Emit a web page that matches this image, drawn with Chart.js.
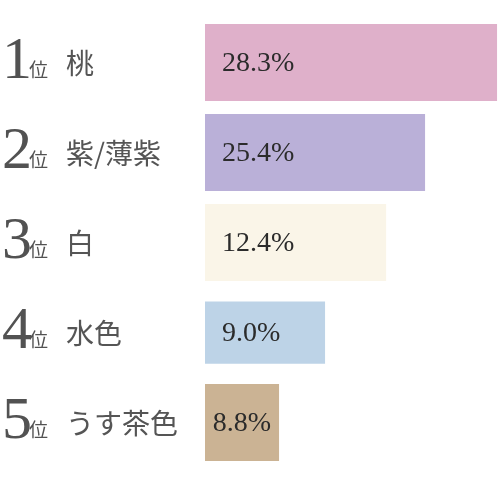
<!DOCTYPE html>
<html>
<head>
<meta charset="utf-8">
<script src="https://cdn.jsdelivr.net/npm/chart.js@4.4.1/dist/chart.umd.min.js"></script>
<style>
  html, body { margin: 0; padding: 0; background: #ffffff; }
  canvas { display: block; }
</style>
</head>
<body>
<canvas id="c" width="500" height="500"></canvas>
<script>
// ---- data ----
const ranks = ['1', '2', '3', '4', '5'];
const colorNames = ['桃', '紫/薄紫', '白', '水色', 'うす茶色'];
const shareLabels = ['28.3%', '25.4%', '12.4%', '9.0%', '8.8%'];
// bar lengths as drawn in the picture (relative scale 0-100)
const barLengths = [99, 74.6, 61.4, 40.7, 25.1];
const barColors = ['#dfb0ca', '#bab0d8', '#faf5e8', '#bdd3e7', '#cbb394'];
const narrowIndex = 3;

const mainData = barLengths.map((v, i) => i === narrowIndex ? null : v);
const narrowData = barLengths.map((v, i) => i === narrowIndex ? v : null);

const labelPlugin = {
  id: 'rankLabels',
  afterDatasetsDraw(chart) {
    const ctx = chart.ctx;
    const yScale = chart.scales.y;
    ctx.save();
    // left side rank labels
    ranks.forEach((r, i) => {
      const cy = yScale.getPixelForValue(i);
      ctx.fillStyle = '#525252';
      ctx.textAlign = 'left';
      ctx.textBaseline = 'alphabetic';
      ctx.font = '60px "Liberation Serif", "DejaVu Serif", serif';
      ctx.fillText(r, 2, cy + 15);
      ctx.font = '19px "Noto Sans CJK JP", sans-serif';
      ctx.fillText('位', 29, cy + 14);
      ctx.font = '28px "Noto Sans CJK JP", sans-serif';
      ctx.textBaseline = 'middle';
      ctx.fillStyle = '#555555';
      ctx.fillText(colorNames[i], 66, cy + 1);
    });
    // value labels inside bars
    ctx.font = '28px "Liberation Serif", "DejaVu Serif", serif';
    ctx.fillStyle = '#2b2b2b';
    ctx.textBaseline = 'middle';
    chart.data.datasets.forEach((ds, di) => {
      const meta = chart.getDatasetMeta(di);
      meta.data.forEach((el, i) => {
        if (ds.data[i] === null || ds.data[i] === undefined) return;
        const props = el.getProps(['x', 'y', 'base'], true);
        const left = Math.min(props.x, props.base);
        const width = Math.abs(props.x - props.base);
        const text = shareLabels[i];
        const tw = ctx.measureText(text).width;
        const pad = 17;
        if (tw + pad * 2 <= width) {
          ctx.textAlign = 'left';
          ctx.fillText(text, left + pad, props.y + 1);
        } else {
          ctx.textAlign = 'center';
          ctx.fillText(text, left + width / 2, props.y + 1);
        }
      });
    });
    ctx.restore();
  }
};

new Chart(document.getElementById('c'), {
  type: 'bar',
  data: {
    labels: colorNames,
    datasets: [
      {
        data: mainData,
        backgroundColor: barColors,
        borderWidth: 0,
        categoryPercentage: 1,
        barPercentage: 0.856,
        grouped: false
      },
      {
        data: narrowData,
        backgroundColor: barColors,
        borderWidth: 0,
        categoryPercentage: 1,
        barPercentage: 0.69,
        grouped: false
      }
    ]
  },
  options: {
    indexAxis: 'y',
    responsive: false,
    animation: false,
    layout: { padding: { left: 205, right: 0, top: 17.6, bottom: 32.4 } },
    plugins: { legend: { display: false }, tooltip: { enabled: false } },
    scales: {
      x: { display: false, min: 0, max: 100, grid: { display: false } },
      y: { display: false, grid: { display: false } }
    }
  },
  plugins: [labelPlugin]
});
</script>
</body>
</html>
